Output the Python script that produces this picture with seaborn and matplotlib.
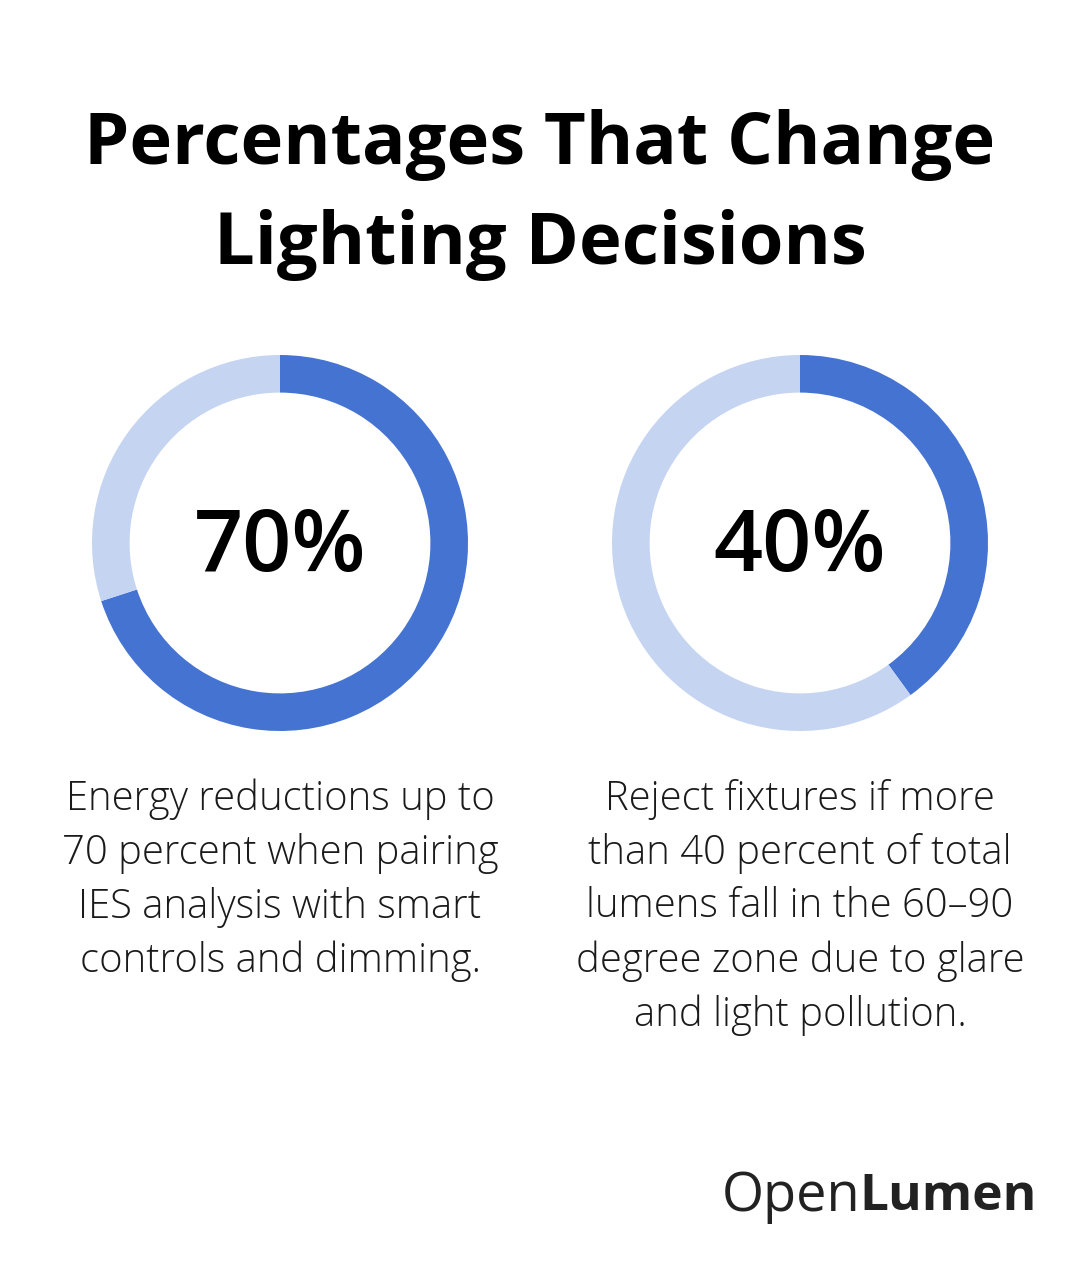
import numpy as np
import pandas as pd
import seaborn as sns
import matplotlib.pyplot as plt

# data
title_lines = ["Percentages That Change", "Lighting Decisions"]
percents = [70, 40]
captions = [
    "Energy reductions up to\n70 percent when pairing\nIES analysis with smart\ncontrols and dimming.",
    "Reject fixtures if more\nthan 40 percent of total\nlumens fall in the 60\u201390\ndegree zone due to glare\nand light pollution.",
]

sns.set_theme(style="white")
plt.rcParams['font.family'] = ['Open Sans', 'DejaVu Sans']

W, H = 1080, 1272
fig = plt.figure(figsize=(W / 100, H / 100), dpi=100)
fig.patch.set_facecolor("white")

dark = "#4473d2"
light = "#c5d5f1"

fig.text(0.5, 1 - 145 / H, title_lines[0], ha="center", va="center",
         fontsize=52, fontweight="bold", color="black")
fig.text(0.5, 1 - 245 / H, title_lines[1], ha="center", va="center",
         fontsize=52, fontweight="bold", color="black")

centers = [280, 800]
r = 188
for cx, p, cap in zip(centers, percents, captions):
    ax = fig.add_axes([(cx - r) / W, (H - 543 - r) / H, 2 * r / W, 2 * r / H])
    ax.pie([p, 100 - p], colors=[dark, light], startangle=90, counterclock=False,
           radius=1, wedgeprops=dict(width=0.2, edgecolor="none"))
    ax.set_xlim(-1, 1)
    ax.set_ylim(-1, 1)
    ax.set_aspect("equal")
    ax.axis("off")
    ax.text(0, -0.03, f"{p}%", ha="center", va="center", fontsize=62,
            fontweight="semibold", color="black")
    fig.text(cx / W, 1 - 779 / H, cap, ha="center", va="top", fontsize=28.8,
             fontweight="light", color="#1a1a1a", linespacing=1.41)

# logo
fig.text(722 / W, 1 - 1197 / H, "Open", ha="left", va="center",
         fontsize=39, color="#222222")
fig.text(1037 / W, 1 - 1197 / H, "Lumen", ha="right", va="center",
         fontsize=37, fontweight="bold", color="#222222")

fig.savefig("out.png", dpi=100, facecolor="white")
